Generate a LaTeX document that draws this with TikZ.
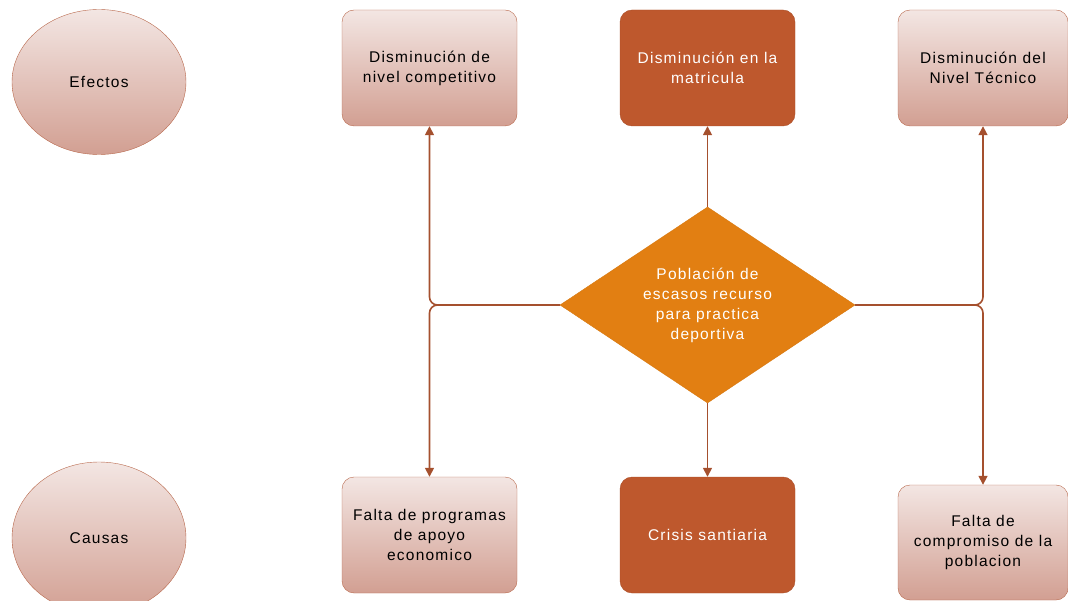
\documentclass[tikz,border=0pt]{standalone}
\usepackage{fontspec}
\setmainfont[LetterSpace=8]{Liberation Sans}
\usepackage{tikz}
\usetikzlibrary{arrows.meta,shapes.geometric}

\definecolor{linebrown}{HTML}{A5502E}
\definecolor{boxline}{HTML}{B8684C}
\definecolor{boxtop}{HTML}{F3E6E3}
\definecolor{boxbot}{HTML}{D29F92}
\definecolor{darkbox}{HTML}{BE582D}
\definecolor{diamfill}{HTML}{E27F12}

\begin{document}
\begin{tikzpicture}[
  x=1pt, y=-1pt,
  every node/.style={font=\fontsize{15.5}{20}\selectfont, align=center},
  enode/.style={draw=boxline,ellipse,top color=boxtop,bottom color=boxbot,minimum width=174pt,minimum height=145pt,inner sep=0pt},
  lbox/.style={draw=boxline,rectangle,rounded corners=12pt,top color=boxtop,bottom color=boxbot,minimum width=175pt,minimum height=116pt,inner sep=3pt},
  dbox/.style={draw=darkbox!90!black,fill=darkbox,text=white,rectangle,rounded corners=12pt,minimum width=175pt,minimum height=116pt,inner sep=3pt},
  dnode/.style={draw=diamfill!95!black,fill=diamfill,text=white,diamond,aspect=1.5,minimum width=295pt,minimum height=196pt,inner sep=0pt},
  conn/.style={draw=linebrown,line width=1.6pt,rounded corners=8pt,-{Triangle[length=9pt,width=9pt]}}
]
  \useasboundingbox (0,0) rectangle (1068,601);

  % labels
  \node[enode] (efectos) at (99,82) {Efectos};
  \node[enode,minimum height=152pt] (causas) at (99,538) {Causas};

  % effects
  \node[lbox] (d1) at (429.5,68) {Disminución de\\nivel competitivo};
  \node[dbox] (d2) at (707.5,68) {Disminución en la\\matricula};
  \node[lbox,minimum width=170pt] (d3) at (983,68) {Disminución del\\Nivel Técnico};

  % problem
  \node[dnode] (pob) at (707.5,305) {Población de\\escasos recurso\\para practica\\deportiva};

  % causes
  \node[lbox] (c1) at (429.5,535) {Falta de programas\\de apoyo\\economico};
  \node[dbox] (c2) at (707.5,535) {Crisis santiaria};
  \node[lbox,minimum width=170pt,minimum height=115pt] (c3) at (983,542.5) {Falta de\\compromiso de la\\poblacion};

  % edges
  \draw[conn] (pob.west) -| (d1.south);
  \draw[conn] (pob.west) -| (c1.north);
  \draw[conn] (pob.north) -- (d2.south);
  \draw[conn] (pob.south) -- (c2.north);
  \draw[conn] (pob.east) -| (d3.south);
  \draw[conn] (pob.east) -| (c3.north);
\end{tikzpicture}
\end{document}
